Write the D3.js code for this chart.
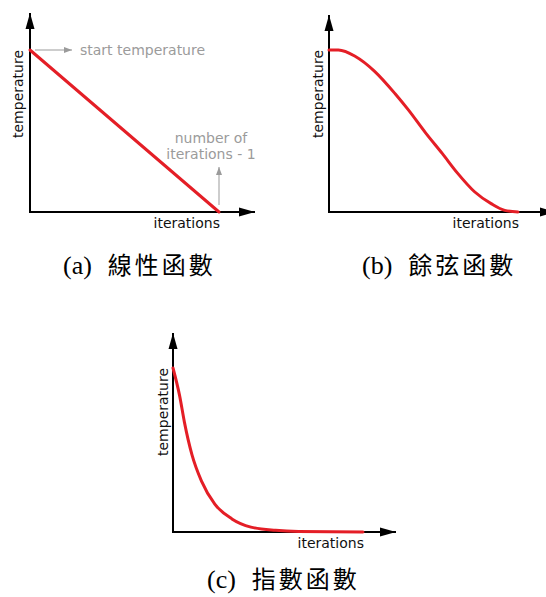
<!DOCTYPE html>
<html>
<head>
<meta charset="utf-8">
<script src="https://cdn.jsdelivr.net/npm/d3@7"></script>
<style>
  html, body { margin: 0; padding: 0; background: #fff; }
  svg { display: block; }
</style>
</head>
<body>
<div id="chart"></div>
<script>
// Values (iterations 0..100, temperature 0..100)
const linearIter = [0, 100];
const linearTemp = [100, 0];
const cosineIter = [0, 5, 14, 24, 35, 42, 51, 60, 68, 77, 86, 93, 100];
const cosineTemp = [100, 100, 96, 87, 73, 63, 49, 36, 24, 12.5, 5, 1, 0];
const expIter = [0, 3.5, 6, 10, 15, 22, 31, 41, 54, 66, 100];
const expTemp = [100, 83, 67, 47, 31, 17, 8, 3, 1, 0.3, 0];
const captionTags = ['(a)', '(b)', '(c)'];
const captionNames = ['線性函數', '餘弦函數', '指數函數'];
const axisNames = ['iterations', 'temperature'];
const noteTexts = ['start temperature', 'number of', 'iterations - 1'];

const W = 546, H = 597;
const RED = '#e41e26', GREY = '#9b9b9b';
const FONT = '"DejaVu Sans", sans-serif';

const svg = d3.select('#chart').append('svg')
  .attr('width', W)
  .attr('height', H);

const defs = svg.append('defs');
defs.append('marker')
  .attr('id', 'axisHead')
  .attr('markerUnits', 'userSpaceOnUse')
  .attr('viewBox', '0 -5 16 10')
  .attr('refX', 16).attr('refY', 0)
  .attr('markerWidth', 16).attr('markerHeight', 10)
  .attr('orient', 'auto')
  .append('path')
  .attr('d', 'M0,-4.5L16,0L0,4.5Z')
  .attr('fill', '#000');
defs.append('marker')
  .attr('id', 'greyHead')
  .attr('markerUnits', 'userSpaceOnUse')
  .attr('viewBox', '0 -4 8 8')
  .attr('refX', 8).attr('refY', 0)
  .attr('markerWidth', 8).attr('markerHeight', 8)
  .attr('orient', 'auto')
  .append('path')
  .attr('d', 'M0,-3L8,0L0,3Z')
  .attr('fill', GREY);

// panel layout: origin of the axes, plot extent, label offsets
const panels = [
  { x0: 30, y0: 212, w: 189, h: 162, xTip: 255, yTip: 13, yLabX: 23, iter: linearIter, temp: linearTemp, curve: d3.curveLinear,
    capX: 63, capY: 274 },
  { x0: 329, y0: 212, w: 189, h: 162, xTip: 556, yTip: 15, yLabX: 323, iter: cosineIter, temp: cosineTemp, curve: d3.curveMonotoneX,
    capX: 362, capY: 274 },
  { x0: 173, y0: 532, w: 190, h: 164, xTip: 396, yTip: 333, yLabX: 168, iter: expIter, temp: expTemp, curve: d3.curveMonotoneX,
    capX: 207, capY: 588 }
];

panels.forEach((p, i) => {
  const g = svg.append('g');
  const x = d3.scaleLinear().domain([0, 100]).range([p.x0, p.x0 + p.w]);
  const y = d3.scaleLinear().domain([0, 100]).range([p.y0, p.y0 - p.h]);

  // axes with arrowheads
  g.append('line')
    .attr('x1', p.x0).attr('y1', p.y0)
    .attr('x2', p.xTip).attr('y2', p.y0)
    .attr('stroke', '#000').attr('stroke-width', 2)
    .attr('marker-end', 'url(#axisHead)');
  g.append('line')
    .attr('x1', p.x0).attr('y1', p.y0 + 1)
    .attr('x2', p.x0).attr('y2', p.yTip)
    .attr('stroke', '#000').attr('stroke-width', 2)
    .attr('marker-end', 'url(#axisHead)');

  // the curve
  const pts = p.iter.map((v, j) => [v, p.temp[j]]);
  g.append('path')
    .datum(pts)
    .attr('d', d3.line().x(d => x(d[0])).y(d => y(d[1])).curve(p.curve))
    .attr('fill', 'none')
    .attr('stroke', RED)
    .attr('stroke-width', 3)
    .attr('stroke-linecap', 'round');

  // axis names
  g.append('text')
    .attr('x', x(100) + 1)
    .attr('y', p.y0 + 16)
    .attr('text-anchor', 'end')
    .attr('font-family', FONT)
    .attr('font-size', 14)
    .attr('fill', '#111')
    .text(axisNames[0]);
  g.append('text')
    .attr('transform', `translate(${p.yLabX},${y(100)}) rotate(-90)`)
    .attr('text-anchor', 'end')
    .attr('font-family', FONT)
    .attr('font-size', 14)
    .attr('fill', '#111')
    .text(axisNames[1]);

  // caption
  const cap = g.append('text')
    .attr('x', p.capX)
    .attr('y', p.capY)
    .attr('fill', '#000');
  cap.append('tspan')
    .attr('font-family', '"Liberation Serif", "Times New Roman", serif')
    .attr('font-size', 26)
    .text(captionTags[i]);
  cap.append('tspan')
    .attr('dx', 16)
    .attr('font-family', '"Noto Sans CJK TC", sans-serif')
    .attr('font-size', 24)
    .attr('letter-spacing', 3)
    .text(captionNames[i]);

  // grey notes on the linear panel
  if (i === 0) {
    g.append('line')
      .attr('x1', x(0) + 5).attr('y1', y(100))
      .attr('x2', x(0) + 42).attr('y2', y(100))
      .attr('stroke', GREY).attr('stroke-width', 1)
      .attr('marker-end', 'url(#greyHead)');
    g.append('text')
      .attr('x', x(0) + 50).attr('y', y(100) + 5)
      .attr('font-family', FONT).attr('font-size', 14)
      .attr('fill', GREY)
      .text(noteTexts[0]);
    g.append('line')
      .attr('x1', x(100)).attr('y1', p.y0 - 7)
      .attr('x2', x(100)).attr('y2', p.y0 - 45)
      .attr('stroke', GREY).attr('stroke-width', 1)
      .attr('marker-end', 'url(#greyHead)');
    g.append('text')
      .attr('x', x(100) - 8).attr('y', p.y0 - 69)
      .attr('text-anchor', 'middle')
      .attr('font-family', FONT).attr('font-size', 14)
      .attr('fill', GREY)
      .text(noteTexts[1]);
    g.append('text')
      .attr('x', x(100) - 8).attr('y', p.y0 - 53)
      .attr('text-anchor', 'middle')
      .attr('font-family', FONT).attr('font-size', 14)
      .attr('fill', GREY)
      .text(noteTexts[2]);
  }
});
</script>
</body>
</html>
